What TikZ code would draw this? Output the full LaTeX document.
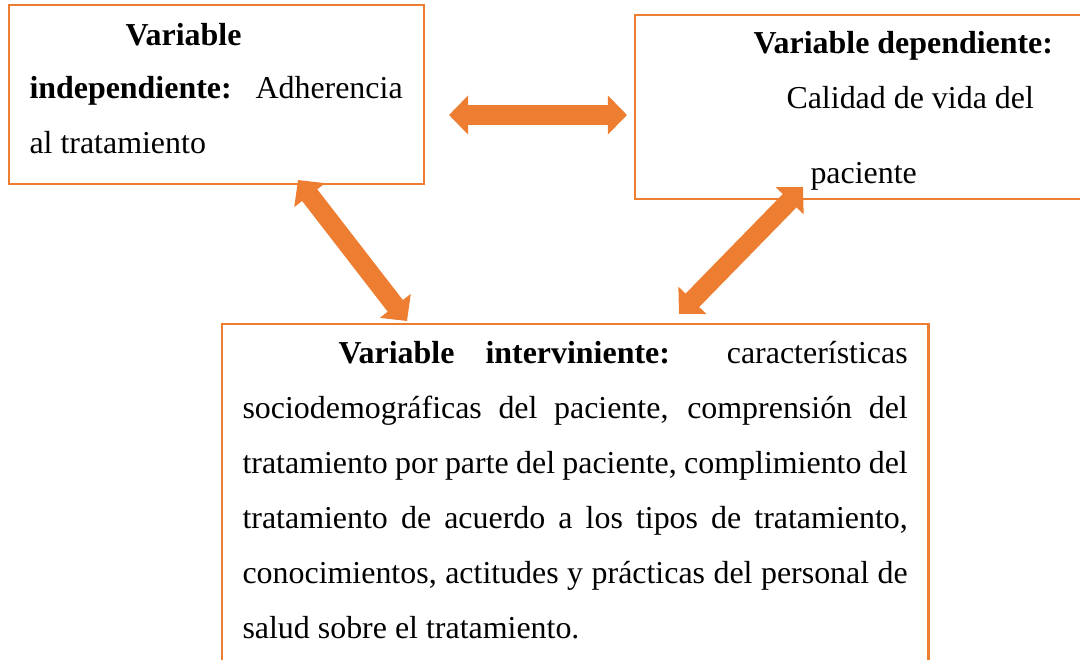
\documentclass[tikz,border=0pt]{standalone}
\usepackage{fontspec}
\setmainfont{Liberation Serif}
\usetikzlibrary{arrows.meta}
\definecolor{boxorange}{HTML}{ED7D31}

\begin{document}
\begin{tikzpicture}[x=0.0136cm,y=-0.0136cm,
    box/.style={draw=boxorange,line width=0.9pt,inner sep=0pt,anchor=north west},
    line/.style={inner sep=0pt,anchor=base west,font=\fontsize{12.35}{14}\selectfont},
    dbl/.style={boxorange,line width=7.4pt,
      {Triangle[width=14.7pt,length=7.4pt]}-{Triangle[width=14.7pt,length=7.4pt]}}]
  \clip (0,0) rectangle (1080,659);

  % boxes
  \node[box,minimum width=5.644cm,minimum height=2.434cm] (indep) at (8,4) {};
  \node[box,minimum width=6.2cm,minimum height=2.502cm] (dep) at (634,14) {};
  \node[box,minimum width=9.602cm,minimum height=4.855cm] (interv) at (221,323) {};

  % independent
  \node[line] (i1) at (125,45) {\textbf{Variable}};
  \node[line] (i2) at (29,98) {\makebox[5.073cm][s]{\textbf{independiente:} Adherencia}};
  \node[line] (i3) at (29,153) {al tratamiento};

  % dependent
  \node[line] (d1) at (753,53) {\textbf{Variable dependiente:}};
  \node[line] (d2) at (786,108) {Calidad de vida del};
  \node[line] (d3) at (810,183) {paciente};

  % intervening
  \node[line] (v1) at (338,363) {\makebox[7.738cm][s]{\textbf{Variable} \textbf{interviniente:} características}};
  \node[line] (v2) at (242,418) {\makebox[9.044cm][s]{sociodemográficas del paciente, comprensión del}};
  \node[line] (v3) at (242,473) {\makebox[9.044cm][s]{tratamiento por parte del paciente, complimiento del}};
  \node[line] (v4) at (242,528) {\makebox[9.044cm][s]{tratamiento de acuerdo a los tipos de tratamiento,}};
  \node[line] (v5) at (242,583) {\makebox[9.044cm][s]{conocimientos, actitudes y prácticas del personal de}};
  \node[line] (v6) at (242,638) {salud sobre el tratamiento.};

  % arrow ends
  \coordinate (hl) at (449,115);
  \coordinate (hr) at (627,115);
  \coordinate (la) at (298,180);
  \coordinate (lb) at (407,321);
  \coordinate (ra) at (803,187);
  \coordinate (rb) at (679,314);

  \draw[dbl] (hl) -- (hr);
  \draw[dbl] (la) -- (lb);
  \draw[dbl] (rb) -- (ra);
\end{tikzpicture}
\end{document}
